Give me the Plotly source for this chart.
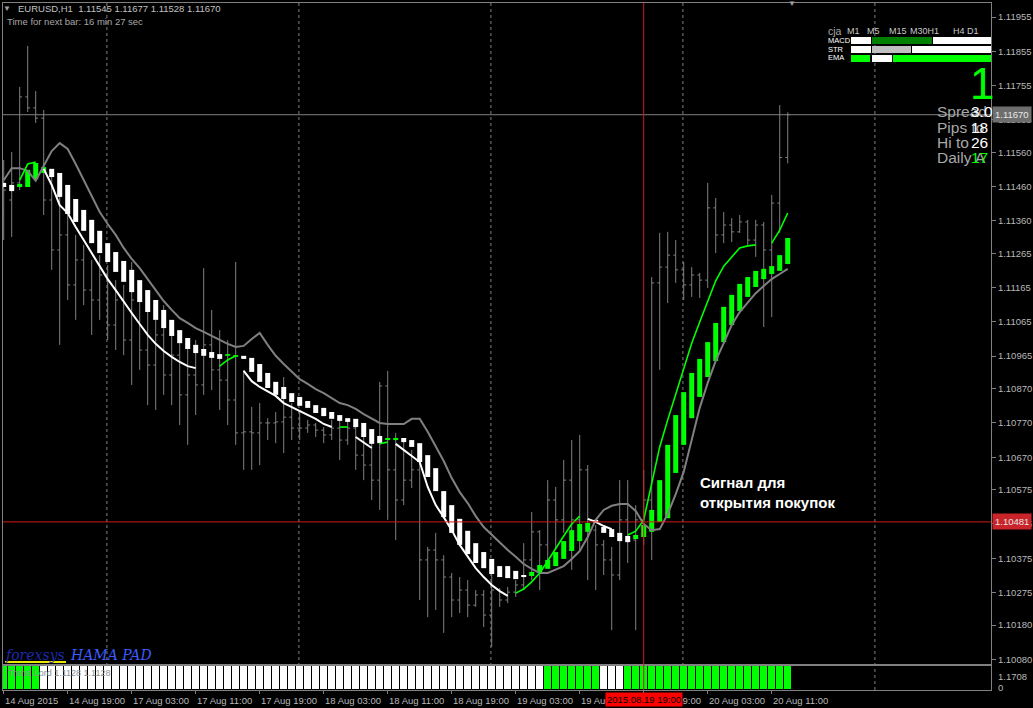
import plotly.graph_objects as go

W, H = 1033, 708
FONT = "Liberation Sans, Arial, sans-serif"
GREY = "#808080"
LABEL = "#b8b8b8"

# ---------------- data (EURUSD H1, one entry per hourly bar) ----------------
bar_open = [1.11383, 1.11421, 1.11471, 1.11722, 1.11690, 1.11660, 1.11421, 1.11275, 1.11319, 1.11173,
            1.11246, 1.11158, 1.11129, 1.11202, 1.11056, 1.11129, 1.11012, 1.11129, 1.10983, 1.10939,
            1.11027, 1.10910, 1.10968, 1.10852, 1.10910, 1.10881, 1.10998, 1.10925, 1.10895, 1.10837,
            1.10741, 1.10744, 1.10741, 1.10770, 1.10770, 1.10773, 1.10787, 1.10755, 1.10755, 1.10764,
            1.10749, 1.10735, 1.10755, 1.10720, 1.10755, 1.10676, 1.10647, 1.10603, 1.10878, 1.10633,
            1.10545, 1.10603, 1.10633, 1.10370, 1.10399, 1.10370, 1.10320, 1.10253, 1.10282, 1.10238,
            1.10268, 1.10209, 1.10282, 1.10253, 1.10276, 1.10297, 1.10370, 1.10452, 1.10414, 1.10545,
            1.10487, 1.10603, 1.10487, 1.10633, 1.10457, 1.10414, 1.10370, 1.10326, 1.10487, 1.10428,
            1.10487, 1.10545, 1.11179, 1.11225, 1.11260, 1.11217, 1.11173, 1.11202, 1.11187, 1.11398,
            1.11319, 1.11348, 1.11328, 1.11357, 1.11304, 1.11348, 1.11275, 1.11412, 1.11545]
bar_high = [1.11538, 1.11561, 1.11751, 1.11871, 1.11739, 1.11684, 1.11494, 1.11436, 1.11377, 1.11319,
            1.11290, 1.11246, 1.11260, 1.11231, 1.11187, 1.11173, 1.11240, 1.11158, 1.11114, 1.11071,
            1.11114, 1.11056, 1.11027, 1.10998, 1.11012, 1.11222, 1.11100, 1.11041, 1.11012, 1.11240,
            1.10925, 1.10817, 1.10828, 1.10784, 1.10802, 1.10904, 1.10828, 1.10808, 1.10779, 1.10770,
            1.10758, 1.10779, 1.10779, 1.10779, 1.10758, 1.10741, 1.10741, 1.10890, 1.10922, 1.10741,
            1.10720, 1.10691, 1.10662, 1.10408, 1.10449, 1.10384, 1.10332, 1.10320, 1.10311, 1.10282,
            1.10282, 1.10370, 1.10288, 1.10291, 1.10311, 1.10419, 1.10510, 1.10457, 1.10603, 1.10583,
            1.10662, 1.10720, 1.10735, 1.10647, 1.10472, 1.10428, 1.10408, 1.10603, 1.10603, 1.10530,
            1.10633, 1.11196, 1.11325, 1.11328, 1.11304, 1.11240, 1.11225, 1.11208, 1.11471, 1.11427,
            1.11386, 1.11368, 1.11377, 1.11363, 1.11363, 1.11357, 1.11436, 1.11698, 1.11677]
bar_low = [1.11304, 1.11313, 1.11450, 1.11678, 1.11646, 1.11377, 1.11217, 1.10998, 1.11129, 1.11071,
           1.11114, 1.11027, 1.11071, 1.11012, 1.10983, 1.10968, 1.10881, 1.10925, 1.10822, 1.10808,
           1.10852, 1.10822, 1.10764, 1.10706, 1.10793, 1.10852, 1.10866, 1.10808, 1.10764, 1.10706,
           1.10633, 1.10633, 1.10647, 1.10720, 1.10711, 1.10682, 1.10720, 1.10720, 1.10741, 1.10729,
           1.10711, 1.10720, 1.10662, 1.10706, 1.10633, 1.10603, 1.10545, 1.10516, 1.10487, 1.10428,
           1.10530, 1.10580, 1.10253, 1.10203, 1.10224, 1.10157, 1.10203, 1.10215, 1.10203, 1.10233,
           1.10174, 1.10116, 1.10233, 1.10244, 1.10262, 1.10282, 1.10311, 1.10282, 1.10361, 1.10399,
           1.10449, 1.10341, 1.10399, 1.10311, 1.10282, 1.10326, 1.10165, 1.10311, 1.10361, 1.10165,
           1.10414, 1.10370, 1.10925, 1.11120, 1.11179, 1.11129, 1.11138, 1.11135, 1.11164, 1.11266,
           1.11295, 1.11298, 1.11325, 1.11290, 1.11255, 1.11050, 1.11079, 1.11325, 1.11528]
bar_close = [1.11450, 1.11471, 1.11722, 1.11690, 1.11660, 1.11421, 1.11275, 1.11319, 1.11173, 1.11246,
             1.11158, 1.11129, 1.11202, 1.11056, 1.11129, 1.11012, 1.11129, 1.10983, 1.10939, 1.11027,
             1.10910, 1.10968, 1.10852, 1.10910, 1.10881, 1.10998, 1.10925, 1.10895, 1.10837, 1.10741,
             1.10744, 1.10741, 1.10770, 1.10770, 1.10773, 1.10787, 1.10755, 1.10755, 1.10764, 1.10749,
             1.10735, 1.10755, 1.10720, 1.10755, 1.10676, 1.10647, 1.10603, 1.10878, 1.10633, 1.10545,
             1.10603, 1.10633, 1.10370, 1.10399, 1.10370, 1.10320, 1.10253, 1.10282, 1.10238, 1.10268,
             1.10209, 1.10282, 1.10253, 1.10276, 1.10297, 1.10370, 1.10452, 1.10414, 1.10545, 1.10487,
             1.10603, 1.10487, 1.10633, 1.10457, 1.10414, 1.10370, 1.10326, 1.10487, 1.10428, 1.10487,
             1.10545, 1.11179, 1.11225, 1.11260, 1.11217, 1.11173, 1.11202, 1.11187, 1.11398, 1.11319,
             1.11348, 1.11328, 1.11357, 1.11304, 1.11348, 1.11275, 1.11412, 1.11545, 1.11670]

# HAMA (smoothed Heikin Ashi) bodies
ha_open = [1.11471, 1.11465, 1.11459, 1.11459, 1.11482, 1.11500, 1.11512, 1.11500, 1.11465, 1.11424,
           1.11392, 1.11363, 1.11331, 1.11295, 1.11269, 1.11243, 1.11217, 1.11187, 1.11158, 1.11129,
           1.11100, 1.11071, 1.11041, 1.11018, 1.10998, 1.10986, 1.10977, 1.10971, 1.10966, 1.10963,
           1.10966, 1.10960, 1.10942, 1.10916, 1.10890, 1.10875, 1.10857, 1.10846, 1.10834, 1.10822,
           1.10814, 1.10802, 1.10793, 1.10784, 1.10782, 1.10770, 1.10752, 1.10732, 1.10720, 1.10720,
           1.10726, 1.10720, 1.10711, 1.10676, 1.10638, 1.10571, 1.10530, 1.10490, 1.10455, 1.10419,
           1.10393, 1.10373, 1.10352, 1.10352, 1.10338, 1.10326, 1.10323, 1.10335, 1.10344, 1.10352,
           1.10373, 1.10396, 1.10425, 1.10452, 1.10487, 1.10466, 1.10460, 1.10449, 1.10440, 1.10431,
           1.10437, 1.10452, 1.10481, 1.10492, 1.10624, 1.10706, 1.10784, 1.10846, 1.10904, 1.10951,
           1.11006, 1.11056, 1.11097, 1.11138, 1.11167, 1.11190, 1.11205, 1.11214, 1.11234]
ha_close = [1.11459, 1.11447, 1.11468, 1.11509, 1.11529, 1.11517, 1.11488, 1.11430, 1.11380, 1.11357,
            1.11331, 1.11295, 1.11266, 1.11240, 1.11211, 1.11182, 1.11152, 1.11123, 1.11094, 1.11071,
            1.11047, 1.11024, 1.11003, 1.10986, 1.10974, 1.10966, 1.10960, 1.10957, 1.10971, 1.10968,
            1.10957, 1.10919, 1.10890, 1.10872, 1.10852, 1.10840, 1.10831, 1.10820, 1.10814, 1.10799,
            1.10790, 1.10782, 1.10776, 1.10773, 1.10758, 1.10729, 1.10709, 1.10711, 1.10726, 1.10726,
            1.10714, 1.10700, 1.10656, 1.10612, 1.10571, 1.10495, 1.10449, 1.10414, 1.10387, 1.10361,
            1.10346, 1.10329, 1.10320, 1.10317, 1.10314, 1.10320, 1.10335, 1.10355, 1.10370, 1.10393,
            1.10425, 1.10457, 1.10475, 1.10478, 1.10478, 1.10449, 1.10437, 1.10425, 1.10422, 1.10443,
            1.10472, 1.10516, 1.10603, 1.10706, 1.10793, 1.10860, 1.10916, 1.10957, 1.11006, 1.11062,
            1.11109, 1.11144, 1.11176, 1.11196, 1.11214, 1.11220, 1.11228, 1.11260, 1.11310]

# grey envelope line
band_line = [1.11479, 1.11514, 1.11514, 1.11506, 1.11477, 1.11520, 1.11564, 1.11587, 1.11570, 1.11526,
             1.11479, 1.11430, 1.11386, 1.11351, 1.11319, 1.11281, 1.11249, 1.11222, 1.11190, 1.11158,
             1.11126, 1.11100, 1.11076, 1.11062, 1.11047, 1.11036, 1.11024, 1.11012, 1.11001, 1.10992,
             1.10995, 1.11015, 1.11033, 1.10998, 1.10966, 1.10942, 1.10919, 1.10898, 1.10884, 1.10869,
             1.10857, 1.10843, 1.10828, 1.10822, 1.10811, 1.10796, 1.10782, 1.10770, 1.10767, 1.10767,
             1.10767, 1.10782, 1.10782, 1.10744, 1.10700, 1.10659, 1.10609, 1.10568, 1.10536, 1.10498,
             1.10466, 1.10443, 1.10422, 1.10399, 1.10379, 1.10358, 1.10344, 1.10332, 1.10332, 1.10341,
             1.10352, 1.10373, 1.10396, 1.10437, 1.10487, 1.10516, 1.10528, 1.10533, 1.10533, 1.10513,
             1.10475, 1.10457, 1.10460, 1.10504, 1.10562, 1.10627, 1.10720, 1.10814, 1.10887, 1.10951,
             1.11003, 1.11056, 1.11094, 1.11123, 1.11149, 1.11170, 1.11190, 1.11205, 1.11220]

N = None
# trend line, bearish (white) part
trend_down = [N, N, N, N, N, 1.11512, 1.11465, 1.11406, 1.11383, 1.11342,
              1.11304, 1.11266, 1.11225, 1.11190, 1.11158, 1.11123, 1.11091, 1.11059, 1.11027, 1.11001,
              1.10980, 1.10963, 1.10948, 1.10936, 1.10930, N, N, N, N, N,
              1.10922, 1.10892, 1.10875, 1.10863, 1.10849, 1.10828, 1.10817, 1.10805, 1.10793, 1.10782,
              1.10767, 1.10758, N, N, 1.10729, 1.10714, 1.10697, N, N, 1.10709,
              1.10691, 1.10674, 1.10656, 1.10583, 1.10530, 1.10495, 1.10457, 1.10414, 1.10379, 1.10346,
              1.10320, 1.10297, 1.10279, 1.10265, N, N, N, N, N, N,
              N, N, N, 1.10490, 1.10481, 1.10469, 1.10460, N, N, N,
              N, N, N, N, N, N, N, N, N, N,
              N, N, N, N, N, N, N, N, N]
# trend line, bullish (green) part
trend_up = [N, N, 1.11479, 1.11526, 1.11532, N, N, N, N, N,
            N, N, N, N, N, N, N, N, N, N,
            N, N, N, N, N, N, N, 1.10936, 1.10954, 1.10966,
            N, N, N, N, N, N, N, N, N, N,
            N, N, 1.10758, 1.10758, N, N, N, 1.10709, 1.10714, N,
            N, N, N, N, N, N, N, N, N, N,
            N, N, N, N, 1.10273, 1.10285, 1.10306, 1.10332, 1.10367, 1.10405,
            1.10440, 1.10475, 1.10498, N, N, N, N, N, 1.10443, 1.10454,
            1.10487, 1.10589, 1.10700, 1.10779, 1.10852, 1.10930, 1.11003, 1.11065, 1.11123, 1.11185,
            1.11228, 1.11255, 1.11281, 1.11287, 1.11290, N, 1.11295, 1.11333, 1.11383]

# Trend Lord sub-window state per bar (1 = up / green, 0 = down / white)
trend_lord = [1, 1, 1, 1, 1, 0, 0, 0, 0, 0,
              0, 0, 0, 0, 0, 0, 0, 0, 0, 0,
              0, 0, 0, 0, 0, 0, 0, 0, 0, 0,
              0, 0, 0, 0, 0, 0, 0, 0, 0, 0,
              0, 0, 0, 0, 0, 0, 0, 0, 0, 0,
              0, 0, 0, 0, 0, 0, 0, 0, 0, 0,
              0, 0, 0, 0, 0, 0, 0, 0, 1, 1,
              1, 1, 1, 1, 1, 0, 0, 0, 1, 1,
              1, 1, 1, 1, 1, 1, 1, 1, 1, 1,
              1, 1, 1, 1, 1, 1, 1, 1, 1]

time_ticks = [0, 8, 16, 24, 32, 40, 48, 56, 64, 72, 80, 88, 96]
time_labels = ["14 Aug 2015", "14 Aug 19:00", "17 Aug 03:00", "17 Aug 11:00", "17 Aug 19:00",
               "18 Aug 03:00", "18 Aug 11:00", "18 Aug 19:00", "19 Aug 03:00", "19 Aug 11:00",
               "19 Aug 19:00", "20 Aug 03:00", "20 Aug 11:00"]
day_start_bars = [13, 37, 61, 85, 109]
price_ticks = [1.11955, 1.11855, 1.11755, 1.11655, 1.11560, 1.11460, 1.11360, 1.11265, 1.11165,
               1.11065, 1.10965, 1.10870, 1.10770, 1.10670, 1.10575, 1.10475, 1.10375, 1.10275,
               1.10180, 1.10080]
bid_price = 1.11670
cross_price = 1.10481
cross_bar = 80
cross_label = "2015.08.19 19:00"

idx = list(range(len(bar_open)))

# ---------------- figure ----------------
fig = go.Figure()

fig.add_trace(go.Ohlc(
    x=idx, open=bar_open, high=bar_high, low=bar_low, close=bar_close,
    increasing=dict(line=dict(color=GREY, width=1)),
    decreasing=dict(line=dict(color=GREY, width=1)),
    tickwidth=0.3, hoverinfo="skip", showlegend=False, xaxis="x", yaxis="y"))

for col, want_up in (("#ffffff", False), ("#00ff00", True)):
    xs, ys = [], []
    for i, (o, c) in enumerate(zip(ha_open, ha_close)):
        if (c > o) == want_up:
            xs += [i, i, None]
            ys += [o, c, None]
    fig.add_trace(go.Scatter(x=xs, y=ys, mode="lines", line=dict(color=col, width=5),
                             hoverinfo="skip", showlegend=False, xaxis="x", yaxis="y"))

fig.add_trace(go.Scatter(x=idx, y=band_line, mode="lines", line=dict(color=GREY, width=2),
                         hoverinfo="skip", showlegend=False, xaxis="x", yaxis="y"))
fig.add_trace(go.Scatter(x=idx, y=trend_down, mode="lines", line=dict(color="#ffffff", width=2),
                         connectgaps=False, hoverinfo="skip", showlegend=False, xaxis="x", yaxis="y"))
fig.add_trace(go.Scatter(x=idx, y=trend_up, mode="lines", line=dict(color="#00ff00", width=1.6),
                         connectgaps=False, hoverinfo="skip", showlegend=False, xaxis="x", yaxis="y"))

fig.add_trace(go.Bar(
    x=idx, y=[1 for _ in trend_lord], width=1,
    marker=dict(color=["#00ff00" if s else "#ffffff" for s in trend_lord],
                line=dict(color="#000000", width=1)),
    hoverinfo="skip", showlegend=False, xaxis="x2", yaxis="y2"))


def px(x):
    return x / W


def py(y):
    return 1 - y / H


shapes = []
# day separators (dashed grid)
for b in day_start_bars:
    shapes.append(dict(type="line", xref="x", yref="paper", x0=b - 0.1, x1=b - 0.1,
                       y0=py(690), y1=py(3), line=dict(color=GREY, width=1, dash="3px,3px"),
                       layer="below"))
# bid line
shapes.append(dict(type="line", xref="paper", yref="y", x0=px(3), x1=px(991), y0=bid_price,
                   y1=bid_price, line=dict(color=GREY, width=1), layer="above"))
# crosshair
shapes.append(dict(type="line", xref="paper", yref="y", x0=px(3), x1=px(991), y0=cross_price,
                   y1=cross_price, line=dict(color="#d01818", width=1), layer="above"))
shapes.append(dict(type="line", xref="x", yref="paper", x0=cross_bar, x1=cross_bar, y0=py(690),
                   y1=py(3), line=dict(color="#d01818", width=1), layer="above"))
# dashboard bars
dash_rows = [
    (37, 44, [(851, 871, "#ffffff"), (872, 932, "#008000"), (933, 991, "#ffffff")]),
    (46, 53, [(851, 871, "#ffffff"), (872, 911, "#c0c0c0"), (912, 991, "#ffffff")]),
    (55, 62, [(851, 870, "#00ff00"), (872, 892, "#ffffff"), (893, 991, "#00ff00")]),
]
for y0, y1, segs in dash_rows:
    for x0, x1, c in segs:
        shapes.append(dict(type="rect", xref="paper", yref="paper", x0=px(x0), x1=px(x1),
                           y0=py(y1), y1=py(y0), fillcolor=c, line=dict(width=0), layer="above"))
# underline of the logo text
shapes.append(dict(type="line", xref="paper", yref="paper", x0=px(5), x1=px(66), y0=py(662),
                   y1=py(662), line=dict(color="#e8e800", width=2), layer="above"))


def ann(text, x, y, size, color, xanchor="left", family=FONT, bg=None):
    d = dict(text=text, x=px(x), y=py(y), xref="paper", yref="paper", xanchor=xanchor,
             yanchor="middle", showarrow=False, font=dict(size=size, color=color, family=family),
             borderpad=0)
    if bg:
        d["bgcolor"] = bg
    return d


anns = []
anns.append(ann("▼", 7, 8, 8, "#a0a0a0", "center"))
anns.append(ann("EURUSD,H1  1.11545 1.11677 1.11528 1.11670", 17, 8, 9.5, "#c0c0c0"))
anns.append(ann("Time for next bar: 16 min 27 sec", 6, 22, 9.5, "#a8a8a8"))
anns.append(ann("▼", 792, 4, 8, "#a0a0a0", "center"))

# dashboard
anns.append(ann("cja", 827, 31, 10.5, "#a8a8a8"))
for t, x in (("M1", 846), ("M5", 866), ("M15", 888), ("M30H1", 909), ("H4", 952), ("D1", 966)):
    anns.append(ann(t, x, 31, 9, "#c8c8c8"))
for t, y in (("MACD", 40), ("STR", 49), ("EMA", 58)):
    anns.append(ann(t, 827, y, 7.5, "#ffffff"))
anns.append(ann("1", 982, 83, 44, "#00ff00", "center"))
for t, y in (("Spread", 111), ("Pips to", 127), ("Hi to", 142), ("Daily A", 157)):
    anns.append(ann(t, 936, y, 15.5, "#a8a8a8"))
for t, y, c in (("3.0", 111, "#ffffff"), ("18", 127, "#ffffff"), ("26", 142, "#ffffff"), ("17", 157, "#00ff00")):
    anns.append(ann(t, 970, y, 15.5, c))

# signal caption
anns.append(ann("<b>Сигнал для</b>", 699, 483, 15, "#ffffff"))
anns.append(ann("<b>открытия покупок</b>", 699, 502, 15, "#ffffff"))

# logo
anns.append(ann("<i>forexsys</i>", 4, 655, 14, "#1e2aa8", family="DejaVu Serif, serif"))
anns.append(ann("<i>HAMA PAD</i>", 69, 655, 14, "#3a5cff", family="DejaVu Serif, serif"))

# sub-window texts
anns.append(ann("Trend Lord 1.1128 1.1128", 7, 673, 9, "#909090"))
anns.append(ann("1.1708", 997, 676, 9.5, LABEL))
anns.append(ann("0", 997, 687, 9.5, LABEL))

# time axis labels
for t, lab in zip(time_ticks, time_labels):
    anns.append(dict(text=lab, x=t, y=py(700), xref="x", yref="paper", xanchor="left",
                     yanchor="middle", showarrow=False, xshift=-1,
                     font=dict(size=9.5, color=LABEL, family=FONT)))
anns.append(dict(text=cross_label, x=cross_bar, y=py(699), xref="x", yref="paper",
                 xanchor="center", yanchor="middle", showarrow=False, bgcolor="#ff0000",
                 borderpad=1, font=dict(size=9.5, color="#000000", family=FONT)))
# price labels of horizontal lines
anns.append(dict(text=f"{bid_price:.5f}", x=px(992), y=bid_price, xref="paper", yref="y",
                 xanchor="left", yanchor="middle", showarrow=False, bgcolor="#6e6e6e", borderpad=2,
                 font=dict(size=9.5, color="#e6e6e6", family=FONT)))
anns.append(dict(text=f"{cross_price:.5f}", x=px(992), y=cross_price, xref="paper", yref="y",
                 xanchor="left", yanchor="middle", showarrow=False, bgcolor="#c8242a", borderpad=2,
                 font=dict(size=9.5, color="#e6e6e6", family=FONT)))

ymin = 1.12005 - 664 * 0.0000292
ymax = 1.12005 - 3 * 0.0000292

fig.update_layout(
    width=W, height=H, template="none",
    margin=dict(l=0, r=0, t=0, b=0, pad=0),
    paper_bgcolor="#000000", plot_bgcolor="#000000",
    showlegend=False, bargap=0, hovermode=False,
    xaxis=dict(domain=[px(3), px(991)], range=[-0.0875, 123.41], anchor="y",
               showgrid=False, zeroline=False, showticklabels=False, ticks="",
               showline=True, mirror=True, linecolor=GREY, linewidth=1,
               rangeslider=dict(visible=False), automargin=False),
    yaxis=dict(domain=[py(664), py(3)], range=[ymin, ymax], anchor="x", side="right",
               tickvals=price_ticks, ticktext=[f"{v:.5f}" for v in price_ticks],
               ticks="outside", ticklen=4, tickcolor=GREY,
               tickfont=dict(size=9.5, color=LABEL, family=FONT),
               showgrid=False, zeroline=False, showline=True, mirror=True,
               linecolor=GREY, linewidth=1, automargin=False),
    xaxis2=dict(domain=[px(3), px(991)], matches="x", anchor="y2",
                tickvals=time_ticks, ticks="outside", ticklen=3, tickcolor=GREY,
                showticklabels=False, showgrid=False, zeroline=False,
                showline=True, mirror=True, linecolor=GREY, linewidth=1, automargin=False),
    yaxis2=dict(domain=[py(690), py(666)], range=[0, 1], anchor="x2",
                showticklabels=False, showgrid=False, zeroline=False, ticks="",
                showline=True, mirror=True, linecolor=GREY, linewidth=1, automargin=False),
    shapes=shapes, annotations=anns,
)

fig.write_html(
    "out.html",
    config={"displayModeBar": False},
    post_script="document.body.style.margin='0';document.body.style.padding='0';"
                "document.body.style.background='#000';document.body.style.overflow='hidden';",
)
